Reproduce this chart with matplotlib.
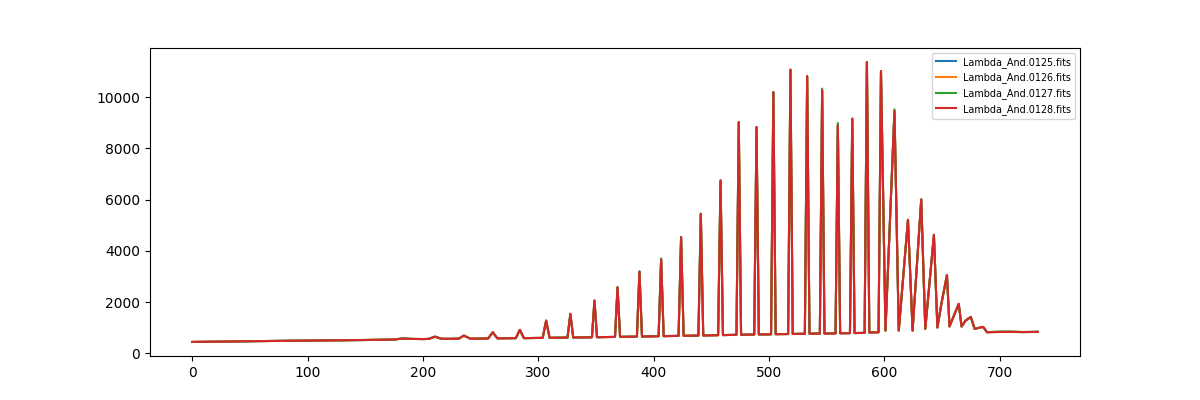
import matplotlib
matplotlib.use("Agg")
import matplotlib.pyplot as plt

# Vertices of the extracted spectra (pixel index along the dispersion axis)
spec_x = [
    0, 25, 50, 75, 100, 125, 150, 175, 179, 183, 190, 200, 205, 210.5, 216, 225, 231, 235.5, 241, 250,
    256.5, 260.5, 264.5,
    280.5, 284, 287.5,
    303.8, 306.8, 309.8,
    325.3, 327.8, 330.3,
    346.5, 348.7, 350.9,
    366.5, 368.7, 370.9,
    385.5, 387.7, 389.9,
    404.3, 406.5, 408.7,
    421.6, 423.8, 426.0,
    438.8, 440.9, 443.0,
    455.9, 458.0, 460.1,
    471.8, 473.8, 475.8,
    487.2, 489.2, 491.2,
    501.8, 503.8, 505.8,
    516.6, 518.6, 520.6,
    531.1, 533.1, 535.1,
    544.1, 546.1, 548.1,
    557.7, 559.7, 561.7,
    570.2, 572.2, 574.2,
    582.9, 584.9, 587.0,
    595.0, 597.1, 601.0,
    608.8, 612.5, 620.5, 624.5, 632.0, 635.5, 643.0, 646.0, 649.5, 654.3, 656.5,
    664.5, 667.0, 670.4, 675.0, 678.3, 682.0, 685.7, 689.0, 700, 710, 720, 733,
]

flux_0128 = [
    445, 455, 470, 483, 495, 505, 518, 535, 560, 578, 560, 555, 560, 650, 565, 565, 570, 690, 570, 572,
    578, 820, 582,
    590, 914, 592,
    600, 1277, 605,
    612, 1539, 615,
    625, 2059, 628,
    638, 2578, 640,
    650, 3191, 655,
    665, 3660, 668,
    678, 4531, 682,
    690, 5445, 695,
    705, 6746, 710,
    720, 9023, 722,
    730, 8828, 735,
    740, 10195, 745,
    750, 11070, 755,
    760, 10820, 765,
    768, 10262, 772,
    775, 8895, 780,
    785, 9156, 790,
    795, 11367, 810,
    820, 11016, 887,
    9453, 887, 5211, 887, 6004, 953, 4625, 1004, 1930, 3050, 1043,
    1930, 1043, 1277, 1420, 953, 992, 1030, 820, 830, 835, 825, 835,
]

flux_0127 = [
    440, 455, 468, 485, 495, 507, 518, 537, 558, 575, 562, 553, 562, 645, 567, 563, 572, 685, 572, 570,
    580, 815, 585,
    592, 910, 590,
    602, 1270, 603,
    615, 1535, 613,
    628, 2050, 626,
    640, 2570, 642,
    652, 3185, 653,
    667, 3700, 670,
    680, 4540, 680,
    692, 5440, 697,
    707, 6740, 708,
    722, 9010, 724,
    732, 8820, 733,
    742, 10190, 747,
    752, 11060, 753,
    762, 10810, 767,
    770, 10330, 770,
    777, 8985, 782,
    787, 9150, 788,
    797, 11360, 812,
    822, 11000, 885,
    9520, 890, 5200, 885, 5990, 955, 4600, 1010, 1940, 3040, 1050,
    1920, 1040, 1270, 1410, 955, 995, 1025, 825, 845, 850, 830, 840,
]

flux_0126 = [
    442, 457, 470, 482, 497, 505, 520, 535, 558, 577, 560, 557, 560, 648, 565, 566, 570, 688, 570, 573,
    578, 818, 582,
    590, 912, 592,
    600, 1275, 605,
    612, 1537, 615,
    625, 2055, 628,
    638, 2575, 640,
    650, 3188, 655,
    665, 3665, 668,
    678, 4528, 682,
    690, 5442, 695,
    705, 6740, 710,
    720, 9015, 722,
    730, 8820, 735,
    740, 10185, 745,
    750, 11060, 755,
    760, 10815, 765,
    768, 10270, 772,
    775, 8900, 780,
    785, 9150, 790,
    795, 11355, 810,
    820, 11005, 887,
    9460, 887, 5215, 887, 6010, 953, 4630, 1004, 1935, 3060, 1043,
    1925, 1043, 1280, 1425, 953, 990, 1030, 822, 835, 838, 828, 832,
]

flux_0125 = [
    443, 453, 471, 484, 494, 506, 517, 536, 559, 576, 561, 554, 561, 649, 566, 564, 571, 689, 571, 571,
    579, 819, 583,
    591, 913, 591,
    601, 1276, 604,
    613, 1538, 614,
    626, 2057, 627,
    639, 2576, 641,
    651, 3189, 654,
    666, 3662, 669,
    679, 4529, 681,
    691, 5443, 696,
    706, 6742, 709,
    721, 9018, 723,
    731, 8824, 734,
    741, 10190, 746,
    751, 11065, 754,
    761, 10818, 766,
    769, 10265, 771,
    776, 8898, 781,
    786, 9152, 789,
    796, 11360, 811,
    821, 10990, 886,
    9450, 886, 5205, 886, 6000, 954, 4620, 1006, 1932, 3055, 1045,
    1928, 1045, 1275, 1415, 954, 991, 1028, 823, 838, 832, 829, 834,
]

labels = ["Lambda_And.0125.fits", "Lambda_And.0126.fits",
          "Lambda_And.0127.fits", "Lambda_And.0128.fits"]
series = [flux_0125, flux_0126, flux_0127, flux_0128]

fig, ax = plt.subplots(figsize=(12, 4), dpi=100)
for y, lab in zip(series, labels):
    ax.plot(spec_x, y, label=lab)
ax.legend(loc="upper right", fontsize="x-small")
fig.savefig("out.png", dpi=100)
